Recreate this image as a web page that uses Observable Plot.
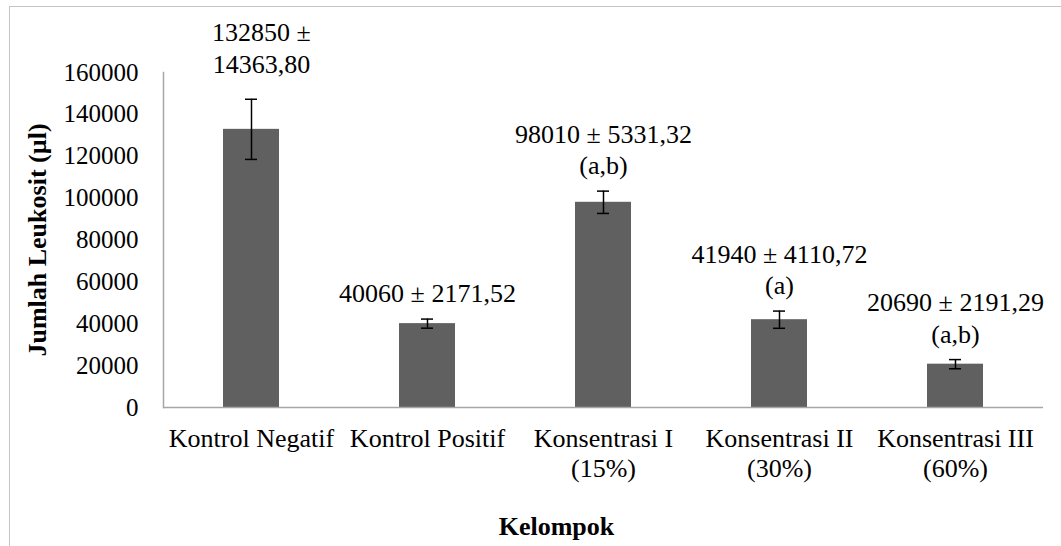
<!DOCTYPE html>
<html>
<head>
<meta charset="utf-8">
<script src="https://cdn.jsdelivr.net/npm/d3@7"></script>
<script src="https://cdn.jsdelivr.net/npm/@observablehq/plot@0.6"></script>
<style>
  html, body { margin: 0; padding: 0; background: #fff; overflow: hidden; }
  #wrap { position: relative; width: 1061px; height: 546px; }
  #border { position: absolute; left: 9px; top: 6px; width: 1100px; height: 600px;
            border-left: 1.5px solid #c4c4c4; border-top: 1.5px solid #c4c4c4; box-sizing: border-box; }
  #chart { position: absolute; left: 0; top: 0; }
</style>
</head>
<body>
<div id="wrap"><div id="border"></div><div id="chart"></div></div>
<script>
const categories = ["Kontrol Negatif", "Kontrol Positif", "Konsentrasi I", "Konsentrasi II", "Konsentrasi III"];
const categoryLabels = ["Kontrol Negatif", "Kontrol Positif", "Konsentrasi I\n(15%)", "Konsentrasi II\n(30%)", "Konsentrasi III\n(60%)"];
const means = [132850, 40060, 98010, 41940, 20690];
const sds = [14363.80, 2171.52, 5331.32, 4110.72, 2191.29];
const meanText = ["132850", "40060", "98010", "41940", "20690"];
const sdText = ["14363,80", "2171,52", "5331,32", "4110,72", "2191,29"];
const notations = ["", "", "(a,b)", "(a)", "(a,b)"];
const yTicks = [0, 20000, 40000, 60000, 80000, 100000, 120000, 140000, 160000];
const xTitle = "Kelompok";
const yTitle = "Jumlah Leukosit (µl)";

const data = categories.map((c, i) => ({
  cat: c,
  label: categoryLabels[i],
  mean: means[i],
  sd: sds[i],
  text: i === 0
    ? `${meanText[i]} ±\n${sdText[i]}`
    : `${meanText[i]} ± ${sdText[i]}` + (notations[i] ? `\n${notations[i]}` : "")
}));

const font = "'Liberation Serif', 'Times New Roman', serif";
const fs = 26;

const chart = Plot.plot({
  width: 1061,
  height: 546,
  marginLeft: 163,
  marginRight: 18,
  marginTop: 72,
  marginBottom: 139,
  style: `font-family: ${font}; font-size: ${fs}px; color: #000; background: transparent;`,
  x: { domain: categories, padding: 0, axis: null },
  y: { domain: [0, 160000], ticks: yTicks, tickFormat: d => String(d) },
  marks: [
    Plot.barY(data, { x: "cat", y: "mean", fill: "#606060", insetLeft: 60, insetRight: 60 }),
    Plot.ruleX(data, { x: "cat", y1: d => d.mean - d.sd, y2: d => d.mean + d.sd, stroke: "#000", strokeWidth: 1.5 }),
    Plot.tickY(data, { x: "cat", y: d => d.mean + d.sd, stroke: "#000", strokeWidth: 1.5, insetLeft: 82, insetRight: 82 }),
    Plot.tickY(data, { x: "cat", y: d => d.mean - d.sd, stroke: "#000", strokeWidth: 1.5, insetLeft: 82, insetRight: 82 }),
    Plot.frame({ anchor: "left", stroke: "#a6a6a6", strokeWidth: 1.5 }),
    Plot.ruleY([0], { stroke: "#a6a6a6", strokeWidth: 1.5 }),
    Plot.axisY({ ticks: yTicks, tickSize: 0, tickPadding: 25, label: null, fontSize: 25, tickFormat: d => String(d), fill: "#000", fontFamily: font }),
    Plot.text(data, { x: "cat", y: 0, text: "label", lineAnchor: "top", dy: 18, lineHeight: 1.15, fill: "#000", fontSize: fs, fontFamily: font }),
    Plot.text(data.slice(1), { x: "cat", y: d => d.mean + d.sd, text: "text", lineAnchor: "bottom", dy: -17, lineHeight: 1.2, fill: "#000", fontSize: fs, fontFamily: font }),
    Plot.text(data.slice(0, 1), { x: "cat", y: d => d.mean + d.sd, text: "text", lineAnchor: "bottom", dy: -26, dx: 10, lineHeight: 1.23, fill: "#000", fontSize: fs, fontFamily: font }),
    Plot.text([xTitle], { frameAnchor: "bottom", textAnchor: "middle", lineAnchor: "bottom", dy: 127, dx: -47, fontWeight: "bold", fill: "#000", fontSize: fs, fontFamily: font }),
    Plot.text([yTitle], { frameAnchor: "left", textAnchor: "middle", lineAnchor: "middle", dx: -126, rotate: -90, fontWeight: "bold", fill: "#000", fontSize: fs, fontFamily: font })
  ]
});
document.getElementById("chart").appendChild(chart);
</script>
</body>
</html>
